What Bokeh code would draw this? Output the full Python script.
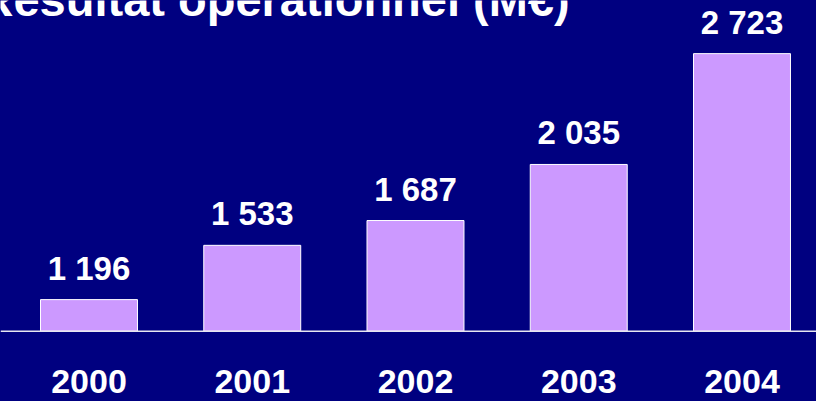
from bokeh.plotting import figure
from bokeh.models import Range1d, ColumnDataSource, Label, LabelSet, Span
from bokeh.core.properties import value
from bokeh.embed import file_html
from bokeh.resources import INLINE

try:
    from bokeh.models import GlobalInlineStyleSheet
except Exception:
    GlobalInlineStyleSheet = None

# ---- data ----
years = ["2000", "2001", "2002", "2003", "2004"]
results = [1196, 1533, 1687, 2035, 2723]
value_labels = ["1 196", "1 533", "1 687", "2 035", "2 723"]
title_text = "Résultat opérationnel (M€)"
axis_base = 1000

NAVY = "#000080"
BAR = "#CC99FF"
FONT = "Liberation Sans"

xs = list(range(len(years)))
src = ColumnDataSource(dict(x=xs, top=results, label=value_labels, year=years,
                            base=[axis_base] * len(years)))

p = figure(width=816, height=401, output_backend="svg", toolbar_location=None,
           x_range=Range1d(-0.5421, 4.4564), y_range=Range1d(563.6, 3052.8),
           min_border_left=0, min_border_right=0, min_border_top=0, min_border_bottom=0)
p.background_fill_color = NAVY
p.border_fill_color = NAVY
p.outline_line_color = None
p.xgrid.visible = False
p.ygrid.visible = False
p.xaxis.visible = False
p.yaxis.visible = False

p.vbar(x="x", top="top", bottom="base", width=0.594, fill_color=BAR,
       line_color="white", line_width=1, source=src)

p.add_layout(Span(location=axis_base, dimension="width", line_color="#E6E6F0",
                  line_width=1.5))

vals = LabelSet(x="x", y="top", text="label", source=src, y_offset=20,
                text_align="center", text_baseline="alphabetic",
                text_color="white", text_font=value(FONT), text_font_style="bold",
                text_font_size="33px")
p.add_layout(vals)

yrs = LabelSet(x="x", y="base", text="year", source=src, y_offset=-62,
               text_align="center", text_baseline="alphabetic",
               text_color="white", text_font=value(FONT), text_font_style="bold",
               text_font_size="34px")
p.add_layout(yrs)

title = Label(x=-21, y=3062, x_units="screen", y_units="data", text=title_text,
              text_align="left", text_baseline="alphabetic",
              text_color="white", text_font=FONT, text_font_style="bold",
              text_font_size="47px")
p.add_layout(title)

if GlobalInlineStyleSheet is not None:
    p.stylesheets = [GlobalInlineStyleSheet(css="body { background-color: #000080; }")]

open("out.html", "w").write(file_html(p, INLINE))
